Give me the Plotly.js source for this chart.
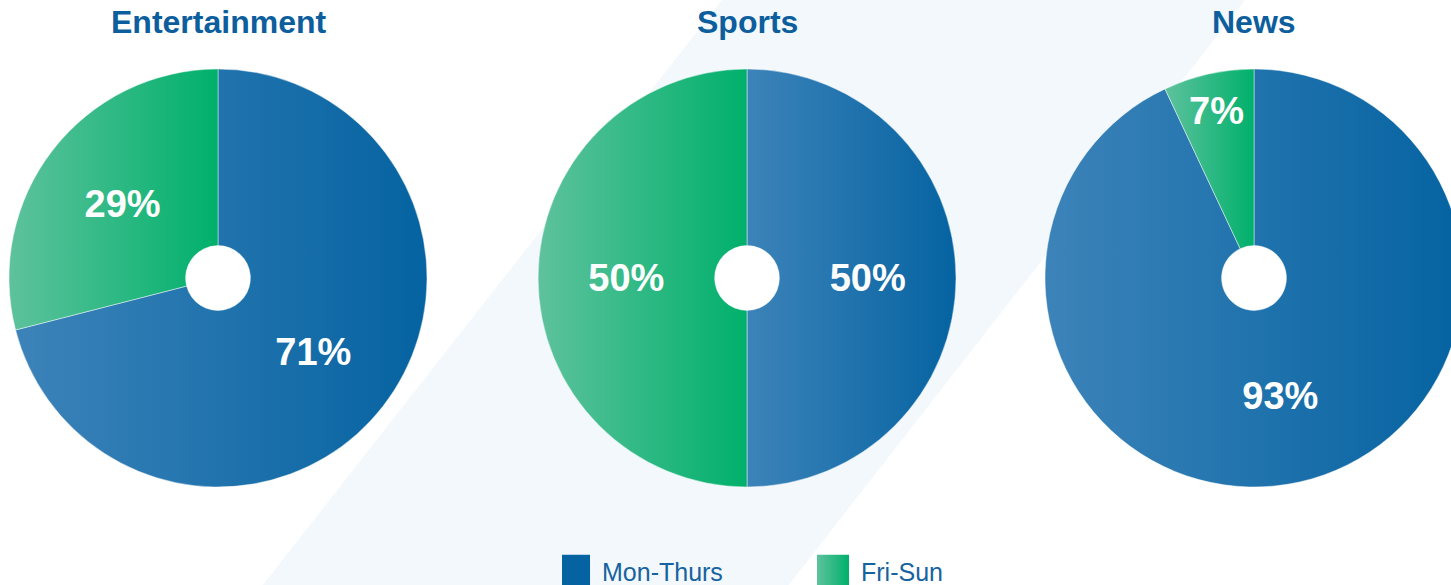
<!DOCTYPE html>
<html><head><meta charset="utf-8">
<script src="https://cdn.plot.ly/plotly-3.0.1.min.js"></script>
<style>html,body{margin:0;padding:0;overflow:hidden;background:#fff}#chart{width:1480px;height:600px}</style>
</head><body><div id="chart"></div>
<script>
// ---- data ----
const categories = ['Entertainment', 'Sports', 'News'];
const seriesLabels = ['Mon-Thurs', 'Fri-Sun'];
const monThurs = [71, 50, 93];
const friSun = [29, 50, 7];

// ---- styling / layout ----
const W = 1480, H = 600;
const BLUE = '#0563a1', GREEN = '#00b06b';
const BLUE_L = '#3c83b9', GREEN_L = '#5ec29d';
const TITLE_C = '#0d5e9d';
const centersPx = [218, 747, 1254];
const cyPx = 278, R = 209, HOLE = 0.155;
const FONT = 'Liberation Sans, Arial, sans-serif';

const traces = categories.map((cat, i) => ({
  type: 'pie',
  name: cat,
  labels: seriesLabels,
  values: [monThurs[i], friSun[i]],
  sort: false,
  direction: 'clockwise',
  rotation: 0,
  hole: HOLE,
  domain: {
    x: [(centersPx[i] - R) / W, (centersPx[i] + R) / W],
    y: [(H - cyPx - R) / H, (H - cyPx + R) / H]
  },
  marker: {colors: [BLUE, GREEN], line: {color: 'rgba(255,255,255,0.45)', width: 1}},
  texttemplate: '%{value}%',
  textposition: 'inside',
  insidetextorientation: 'horizontal',
  insidetextfont: {family: FONT, size: 38, color: '#ffffff', weight: 'bold'},
  hoverinfo: 'none'
}));

const px = x => x / W, py = y => 1 - y / H;
const band = [[722, 0], [1245, 0], [777, 600], [251, 600]];
const bandPath = 'M' + band.map(p => px(p[0]) + ',' + py(p[1])).join(' L') + ' Z';
const hr = R * HOLE;
const holeShapes = centersPx.map(c => ({
  type: 'circle', xref: 'paper', yref: 'paper', layer: 'below',
  x0: px(c - hr), x1: px(c + hr), y0: py(cyPx + hr), y1: py(cyPx - hr),
  fillcolor: '#ffffff', line: {width: 0}
}));

const layout = {
  width: W, height: H,
  margin: {l: 0, r: 0, t: 0, b: 0},
  paper_bgcolor: '#ffffff',
  showlegend: true,
  legend: {
    orientation: 'h', x: px(562), xanchor: 'left', y: py(548), yanchor: 'top',
    font: {family: FONT, size: 25, color: '#1762a0'},
    entrywidth: 214, entrywidthmode: 'pixels',
    bgcolor: 'rgba(0,0,0,0)', traceorder: 'normal'
  },
  shapes: [{type: 'path', xref: 'paper', yref: 'paper', path: bandPath,
            fillcolor: '#f3f8fc', line: {width: 0}, layer: 'below'}].concat(holeShapes),
  annotations: categories.map((cat, i) => ({
    xref: 'paper', yref: 'paper', x: px(centersPx[i]), y: py(22),
    xanchor: 'center', yanchor: 'middle', showarrow: false,
    text: cat, font: {family: FONT, size: 32, color: TITLE_C, weight: 'bold'}
  }))
};

const gd = document.getElementById('chart');
Plotly.newPlot(gd, traces, layout, {displayModeBar: false, staticPlot: true}).then(() => {
  const NS = 'http://www.w3.org/2000/svg';
  const svg = gd.querySelector('svg.main-svg');
  let defs = svg.querySelector('defs');
  if (!defs) { defs = document.createElementNS(NS, 'defs'); svg.insertBefore(defs, svg.firstChild); }
  function grad(id, c1, c2) {
    const g = document.createElementNS(NS, 'linearGradient');
    g.setAttribute('id', id);
    g.setAttribute('x1', '0'); g.setAttribute('y1', '0');
    g.setAttribute('x2', '1'); g.setAttribute('y2', '0');
    [[0, c1], [1, c2]].forEach(([o, c]) => {
      const s = document.createElementNS(NS, 'stop');
      s.setAttribute('offset', o); s.setAttribute('stop-color', c);
      g.appendChild(s);
    });
    defs.appendChild(g);
  }
  grad('gBlue', BLUE_L, BLUE);
  grad('gGreen', GREEN_L, GREEN);
  gd.querySelectorAll('.pielayer .slice').forEach(s => {
    const pt = s.__data__;
    const p = s.querySelector('path.surface');
    if (!p || !pt) return;
    p.style.fill = pt.i === 0 ? 'url(#gBlue)' : 'url(#gGreen)';
  });
  gd.querySelectorAll('.legend .traces').forEach((t, k) => {
    const p = t.querySelector('.legendpie');
    if (!p) return;
    p.setAttribute('transform', 'translate(12,0) scale(2.67)');
    p.style.strokeWidth = '0';
    if (k === 1) p.style.fill = 'url(#gGreen)';
  });
});
</script>
</body></html>
